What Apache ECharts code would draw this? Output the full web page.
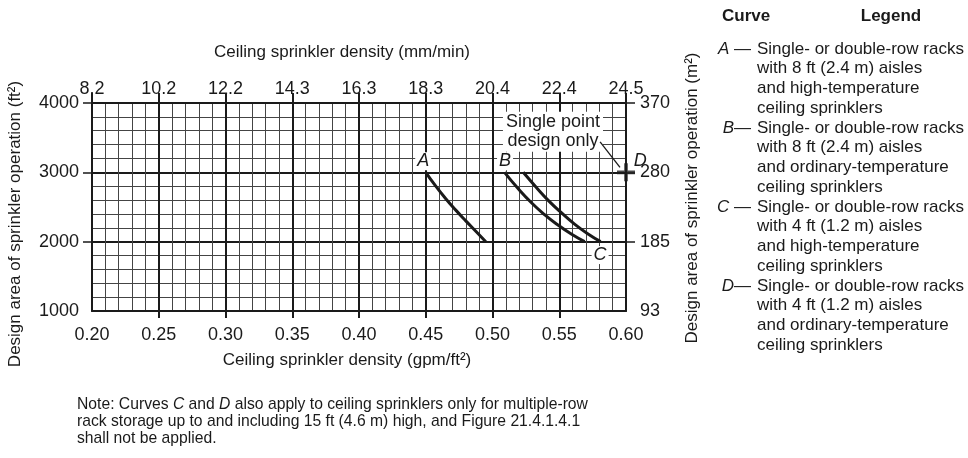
<!DOCTYPE html>
<html>
<head>
<meta charset="utf-8">
<script src="https://cdn.jsdelivr.net/npm/echarts@6/dist/echarts.min.js"></script>
<style>
  html, body { margin: 0; padding: 0; background: #fff; }
  #chart { width: 968px; height: 458px; }
</style>
</head>
<body>
<div id="chart"></div>
<script>
// Ceiling sprinkler density vs. design area, racks up to 15 ft.
const densityMin = 0.20;
const densityMax = 0.60;
const densityStep = 0.05;
const areaMin = 1000;
const areaMax = 4000;
const areaStep = 1000;

// Secondary scales (metric equivalents of the major ticks)
const mmPerMinLabels = ['8.2', '10.2', '12.2', '14.3', '16.3', '18.3', '20.4', '22.4', '24.5'];
const squareMetreLabels = ['93', '185', '280', '370'];

// Design curves: [density gpm/ft², area ft²]
const curveA = [[0.450, 3000], [0.4575, 2800], [0.465, 2620], [0.4725, 2455], [0.480, 2300], [0.4875, 2150], [0.495, 2000]];
const curveB = [[0.509, 3000], [0.519, 2770], [0.529, 2565], [0.539, 2390], [0.549, 2240], [0.559, 2110], [0.569, 2000]];
const curveC = [[0.523, 3000], [0.5327, 2785], [0.5423, 2585], [0.552, 2410], [0.5617, 2250], [0.5713, 2115], [0.581, 2000]];
const pointD = [[0.60, 3000]];
const curveNames = ['A', 'B', 'C', 'D'];

const legendTexts = [
  ['Single- or double-row racks', 'with 8 ft (2.4 m) aisles', 'and high-temperature', 'ceiling sprinklers'],
  ['Single- or double-row racks', 'with 8 ft (2.4 m) aisles', 'and ordinary-temperature', 'ceiling sprinklers'],
  ['Single- or double-row racks', 'with 4 ft (1.2 m) aisles', 'and high-temperature', 'ceiling sprinklers'],
  ['Single- or double-row racks', 'with 4 ft (1.2 m) aisles', 'and ordinary-temperature', 'ceiling sprinklers']
];
const legendDashes = [' \u2014', '\u2014', ' \u2014', '\u2014'];

const noteLines = [
  'Note: Curves {i|C} and {i|D} also apply to ceiling sprinklers only for multiple-row',
  'rack storage up to and including 15 ft (4.6 m) high, and Figure 21.4.1.4.1',
  'shall not be applied.'
];

const FONT = '"Liberation Sans", Arial, Helvetica, sans-serif';
const INK = '#1a1a1a';

const chart = echarts.init(document.getElementById('chart'), null, { renderer: 'canvas' });

const xIndex = v => Math.round((v - densityMin) / densityStep);
const yIndex = v => Math.round((v - areaMin) / areaStep);
const innerX = [];
for (let i = 1; i < mmPerMinLabels.length - 1; i++) innerX.push(+(densityMin + i * densityStep).toFixed(2));
const innerY = [];
for (let i = 1; i < squareMetreLabels.length; i++) innerY.push(areaMin + i * areaStep);

const majorLine = { color: INK, width: 2 };
const minorLine = { color: '#444', width: 1 };

function lineSeries(name, data) {
  return {
    name, type: 'line', data, smooth: 0.5, symbol: 'none',
    lineStyle: { color: INK, width: 3, cap: 'butt' }, z: 5, silent: true
  };
}

const tagLabel = {
  show: true, formatter: '{b}', color: INK, fontFamily: FONT, fontSize: 18,
  fontStyle: 'italic', backgroundColor: '#fff', padding: [0, 2], position: 'inside',
  textBorderWidth: 0, textShadowBlur: 0
};

const option = {
  animation: false,
  backgroundColor: '#fff',
  grid: { left: 92, right: 342, top: 103, bottom: 147 },
  xAxis: [
    {
      type: 'value', position: 'bottom', min: densityMin, max: densityMax, interval: densityStep,
      axisLine: { show: true, lineStyle: majorLine },
      axisTick: { show: true, length: 7, lineStyle: { color: INK, width: 2 }, customValues: innerX },
      axisLabel: { fontSize: 18, fontFamily: FONT, color: INK, margin: 15, formatter: v => v.toFixed(2) },
      splitLine: { show: true, lineStyle: majorLine },
      minorTick: { show: false, splitNumber: 5 },
      minorSplitLine: { show: true, lineStyle: minorLine }
    },
    {
      type: 'value', position: 'top', min: densityMin, max: densityMax, interval: densityStep,
      axisLine: { show: true, lineStyle: majorLine },
      axisTick: { show: true, length: 10, lineStyle: { color: INK, width: 2 } },
      axisLabel: { fontSize: 18, fontFamily: FONT, color: INK, margin: 5, formatter: v => mmPerMinLabels[xIndex(v)] },
      splitLine: { show: false }
    }
  ],
  yAxis: [
    {
      type: 'value', position: 'left', min: areaMin, max: areaMax, interval: areaStep,
      axisLine: { show: true, lineStyle: majorLine },
      axisTick: { show: true, length: 9, lineStyle: { color: INK, width: 1.5 }, customValues: innerY },
      axisLabel: { fontSize: 18, fontFamily: FONT, color: INK, margin: 13, formatter: v => String(v) },
      splitLine: { show: true, lineStyle: majorLine },
      minorTick: { show: false, splitNumber: 5 },
      minorSplitLine: { show: true, lineStyle: minorLine }
    },
    {
      type: 'value', position: 'right', min: areaMin, max: areaMax, interval: areaStep,
      axisLine: { show: true, lineStyle: majorLine },
      axisTick: { show: true, length: 9, lineStyle: { color: INK, width: 1.5 }, customValues: innerY },
      axisLabel: { fontSize: 18, fontFamily: FONT, color: INK, margin: 14, formatter: v => squareMetreLabels[yIndex(v)] },
      splitLine: { show: false }
    }
  ],
  series: [
    lineSeries('A', curveA),
    lineSeries('B', curveB),
    lineSeries('C', curveC),
    {
      name: 'D', type: 'scatter', data: pointD, clip: false, z: 6, silent: true,
      symbol: 'path://M4,0H6V4H10V6H6V10H4V6H0V4H4Z', symbolSize: 18,
      itemStyle: { color: INK },
      markLine: {
        silent: true, symbol: ['none', 'arrow'], symbolSize: [0, 9],
        lineStyle: { color: INK, width: 1.3, type: 'solid' },
        label: { show: false },
        data: [[{ coord: [0.5806, 3440] }, { coord: [0.5955, 3072] }]]
      }
    },
    {
      // curve letters and the single-point note
      type: 'scatter', clip: false, z: 4, silent: true, symbol: 'circle', symbolSize: 0,
      itemStyle: { color: '#fff', opacity: 1 },
      label: tagLabel,
      data: [
        { name: curveNames[0], value: [0.4481, 3160] },
        { name: curveNames[1], value: [0.5094, 3160] },
        { name: curveNames[2], value: [0.5806, 1807] },
        { name: curveNames[3], value: [0.6106, 3163], label: { backgroundColor: 'transparent' } },
        {
          name: 'Single point\ndesign only', value: [0.5453, 3585],
          label: { fontStyle: 'normal', lineHeight: 19, padding: [2, 3, 0, 3] }
        }
      ]
    }
  ],
  graphic: [
    {
      type: 'text', x: 342, y: 52,
      style: { text: 'Ceiling sprinkler density (mm/min)', font: '17px ' + FONT, fill: INK, textAlign: 'center', textVerticalAlign: 'middle' }
    },
    {
      type: 'text', x: 347, y: 360,
      style: { text: 'Ceiling sprinkler density (gpm/ft\u00B2)', font: '17px ' + FONT, fill: INK, textAlign: 'center', textVerticalAlign: 'middle' }
    },
    {
      type: 'text', x: 15, y: 224, rotation: Math.PI / 2,
      style: { text: 'Design area of sprinkler operation (ft\u00B2)', font: '17px ' + FONT, fill: INK, textAlign: 'center', textVerticalAlign: 'middle' }
    },
    {
      type: 'text', x: 692, y: 198, rotation: Math.PI / 2,
      style: { text: 'Design area of sprinkler operation (m\u00B2)', font: '17px ' + FONT, fill: INK, textAlign: 'center', textVerticalAlign: 'middle' }
    },
    {
      type: 'text', x: 722, y: 16,
      style: { text: 'Curve', font: 'bold 17px ' + FONT, fill: INK, textAlign: 'left', textVerticalAlign: 'middle' }
    },
    {
      type: 'text', x: 891, y: 16,
      style: { text: 'Legend', font: 'bold 17px ' + FONT, fill: INK, textAlign: 'center', textVerticalAlign: 'middle' }
    },
    ...legendTexts.map((lines, i) => ({
      type: 'text', x: 751, y: 49 + i * 79,
      style: {
        text: '{i|' + curveNames[i] + '}' + legendDashes[i],
        font: '17px ' + FONT, fill: INK, textAlign: 'right', textVerticalAlign: 'middle',
        rich: { i: { fontStyle: 'italic', fontSize: 17, fontFamily: FONT, fill: INK } }
      }
    })),
    ...legendTexts.map((lines, i) => ({
      type: 'text', x: 757, y: 39 + i * 79,
      style: {
        text: lines.join('\n'), font: '17px ' + FONT, fill: INK,
        textAlign: 'left', textVerticalAlign: 'top', lineHeight: 19.7
      }
    })),
    {
      type: 'text', x: 77, y: 396,
      style: {
        text: noteLines.join('\n'), font: '15.7px ' + FONT, fill: INK,
        textAlign: 'left', textVerticalAlign: 'top', lineHeight: 17,
        rich: { i: { fontStyle: 'italic', fontSize: 15.7, fontFamily: FONT, fill: INK, lineHeight: 17 } }
      }
    }
  ]
};

chart.setOption(option);
</script>
</body>
</html>
